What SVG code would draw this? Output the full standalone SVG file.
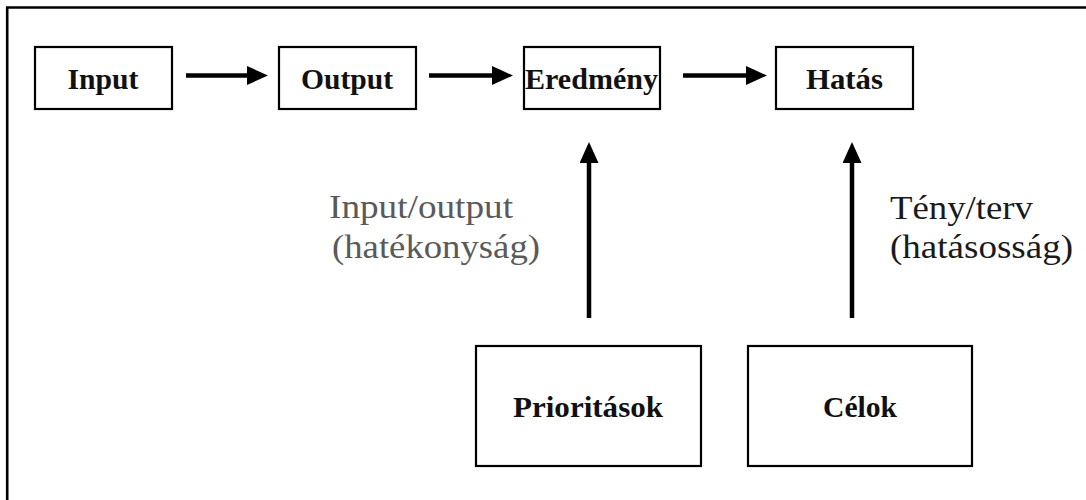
<svg xmlns="http://www.w3.org/2000/svg" width="1086" height="500" viewBox="0 0 1086 500">
<style>
.box{fill:#fff;stroke:#000;stroke-width:2.2}
.bt{font-family:'Liberation Serif','Times New Roman',serif;font-weight:bold;font-size:29px;fill:#111;text-anchor:middle}
.lt{font-family:'Liberation Serif','Times New Roman',serif;font-size:34px}
.conn{stroke:#000;stroke-width:4.5;fill:none}
</style>
<defs>
<marker id="ah" viewBox="0 0 21 19" refX="11" refY="9.5" markerWidth="21" markerHeight="19" markerUnits="userSpaceOnUse" orient="auto">
<path d="M0,0 L21,9.5 L0,19 Z" fill="#000"/>
</marker>
</defs>
<rect width="1086" height="500" fill="#fff"/>
<path d="M7.2,505 V7.5 H1090" fill="none" stroke="#000" stroke-width="2.6"/>
<g id="connectors">
<path class="conn" d="M186,75.5 H258" marker-end="url(#ah)"/>
<path class="conn" d="M429,75.5 H503" marker-end="url(#ah)"/>
<path class="conn" d="M683,75.5 H757" marker-end="url(#ah)"/>
<path class="conn" d="M589,318 V152" marker-end="url(#ah)"/>
<path class="conn" d="M852,318 V152" marker-end="url(#ah)"/>
</g>
<g id="node-input"><rect class="box" x="35" y="47" width="137" height="62"/><text class="bt" x="103" y="88.5" textLength="71" lengthAdjust="spacingAndGlyphs">Input</text></g>
<g id="node-output"><rect class="box" x="279" y="47" width="137" height="62"/><text class="bt" x="347" y="88.5" textLength="92" lengthAdjust="spacingAndGlyphs">Output</text></g>
<g id="node-eredmeny"><rect class="box" x="524" y="47" width="136" height="62"/><text class="bt" x="591.5" y="88.5" textLength="133" lengthAdjust="spacingAndGlyphs">Eredmény</text></g>
<g id="node-hatas"><rect class="box" x="776" y="47" width="137" height="62"/><text class="bt" x="844.5" y="88.5" textLength="77" lengthAdjust="spacingAndGlyphs">Hatás</text></g>
<g id="node-prioritasok"><rect class="box" x="476" y="346" width="225" height="120"/><text class="bt" x="588" y="417" textLength="150" lengthAdjust="spacingAndGlyphs">Prioritások</text></g>
<g id="node-celok"><rect class="box" x="748" y="346" width="224" height="120"/><text class="bt" x="860" y="417" textLength="74" lengthAdjust="spacingAndGlyphs">Célok</text></g>
<g id="label-left" fill="#5a5a5a">
<text class="lt" x="329" y="218" textLength="184" lengthAdjust="spacingAndGlyphs">Input/output</text>
<text class="lt" x="332" y="258" textLength="208" lengthAdjust="spacingAndGlyphs">(hatékonyság)</text>
</g>
<g id="label-right" fill="#1a1a1a">
<text class="lt" x="890" y="219" textLength="143" lengthAdjust="spacingAndGlyphs">Tény/terv</text>
<text class="lt" x="890" y="258" textLength="183" lengthAdjust="spacingAndGlyphs">(hatásosság)</text>
</g>
</svg>
